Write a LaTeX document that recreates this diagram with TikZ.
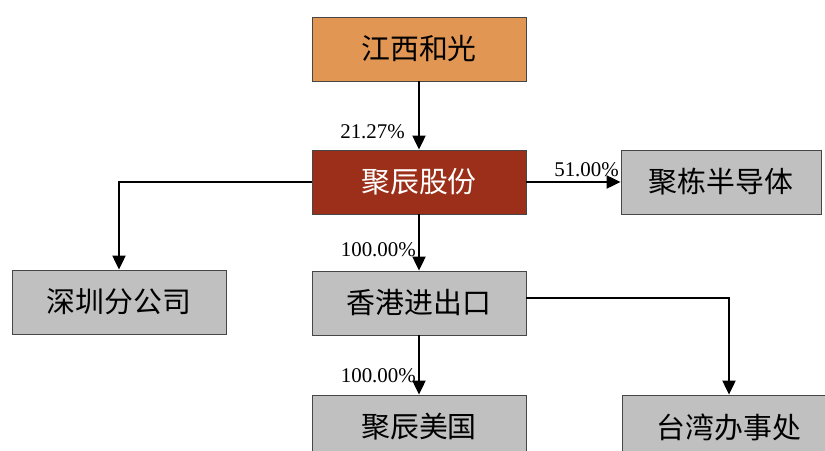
\documentclass[tikz,border=0pt]{standalone}
\usepackage{fontspec}
\setmainfont{Liberation Serif}
\newfontfamily\cjk{Noto Sans CJK SC}
\usetikzlibrary{arrows.meta}
\definecolor{boxgray}{RGB}{192,192,192}
\definecolor{boxorange}{RGB}{226,150,84}
\definecolor{boxred}{RGB}{155,47,25}
\definecolor{edgegray}{RGB}{70,70,70}
\tikzset{
  orgbox/.style={draw=edgegray, line width=0.8bp, fill=boxgray, minimum width=214bp, minimum height=64bp, inner sep=0pt, font=\cjk\fontsize{29}{32}\selectfont},
  link/.style={line width=2bp, -{Triangle[width=13bp,length=14bp]}},
  pct/.style={font=\fontsize{21}{23}\selectfont, inner sep=0pt}
}
\begin{document}
\begin{tikzpicture}[x=1bp,y=-1bp]
\useasboundingbox (0,0) rectangle (825,451);
\clip (0,0) rectangle (825,451);
\fill[white] (0,0) rectangle (825,451);
\node[orgbox, fill=boxorange] (jx) at (419,49) {江西和光};
\node[orgbox, fill=boxred, text=white] (jc) at (419,182) {聚辰股份};
\node[orgbox, minimum width=200bp] (jd) at (721,182) {聚栋半导体};
\node[orgbox] (sz) at (119,302) {深圳分公司};
\node[orgbox] (hk) at (419,303) {香港进出口};
\node[orgbox] (us) at (419,427) {聚辰美国};
\node[orgbox] (tw) at (729,427) {台湾办事处};
\coordinate (szc) at (119,182);
\coordinate (twc) at (729,298);
\draw[link] (jx.south) -- (jc.north);
\draw[link] (jc.east) -- (jd.west);
\draw[link] (jc.west) -- (szc) -- (sz.north);
\draw[link] (jc.south) -- (hk.north);
\draw[link] (hk.south) -- (us.north);
\draw[link] (hk.east |- twc) -- (twc) -- (tw.north);
\node[pct, anchor=east] (p1) at (405,132) {21.27\%};
\node[pct, anchor=south east] (p2) at (619,177) {51.00\%};
\node[pct, anchor=east] (p3) at (416,250) {100.00\%};
\node[pct, anchor=east] (p4) at (416,376) {100.00\%};
\end{tikzpicture}
\end{document}
